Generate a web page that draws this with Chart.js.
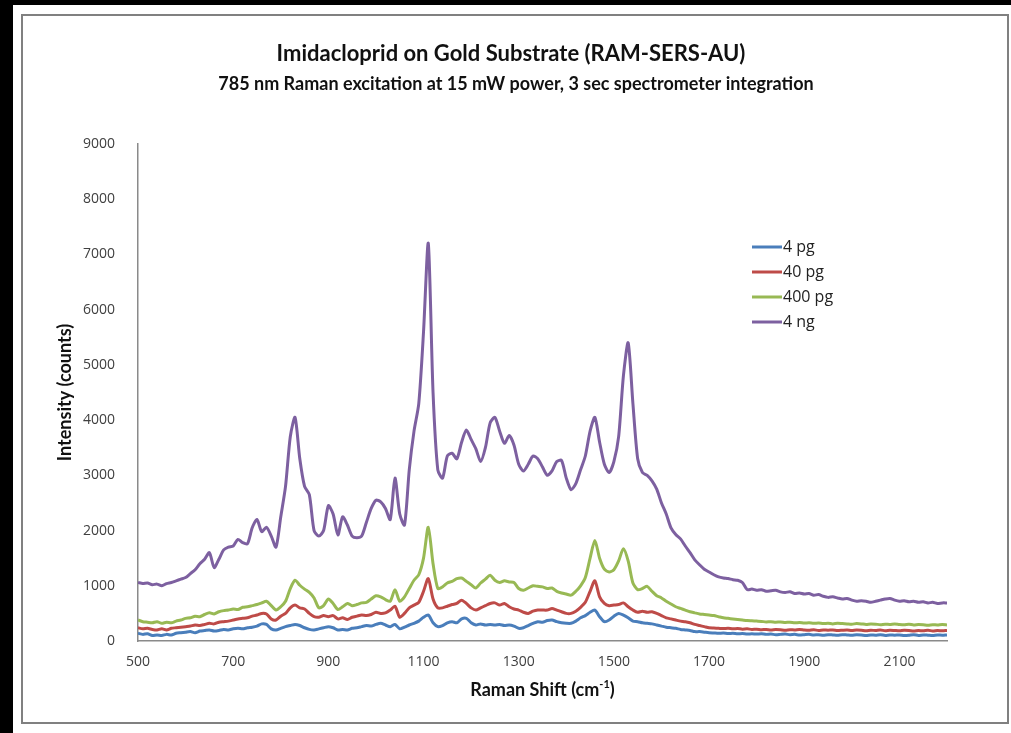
<!DOCTYPE html>
<html>
<head>
<meta charset="utf-8">
<title>Imidacloprid on Gold Substrate (RAM-SERS-AU)</title>
<script src="https://cdn.jsdelivr.net/npm/chart.js@4.4.1/dist/chart.umd.min.js"></script>
<style>
  html, body { margin: 0; padding: 0; background: #000; }
  #wrap { width: 1011px; height: 733px; }
</style>
</head>
<body>
<div id="wrap"><canvas id="ramanChart" width="1011" height="733"></canvas></div>
<script>
// Raman shift (cm-1), shared by all four spectra
const shifts = [
  500, 510, 520, 530, 540, 550, 560, 570, 580, 590,
  600, 610, 620, 630, 640, 650, 660, 670, 680, 690,
  700, 710, 720, 730, 740, 750, 760, 770, 780, 790,
  800, 810, 820, 830, 840, 850, 860, 870, 880, 890,
  900, 910, 920, 930, 940, 950, 960, 970, 980, 990,
  1000, 1010, 1020, 1030, 1040, 1050, 1060, 1070, 1080, 1090,
  1100, 1110, 1120, 1130, 1140, 1150, 1160, 1170, 1180, 1190,
  1200, 1210, 1220, 1230, 1240, 1250, 1260, 1270, 1280, 1290,
  1300, 1310, 1320, 1330, 1340, 1350, 1360, 1370, 1380, 1390,
  1400, 1410, 1420, 1430, 1440, 1450, 1460, 1470, 1480, 1490,
  1500, 1510, 1520, 1530, 1540, 1550, 1560, 1570, 1580, 1590,
  1600, 1610, 1620, 1630, 1640, 1650, 1660, 1670, 1680, 1690,
  1700, 1710, 1720, 1730, 1740, 1750, 1760, 1770, 1780, 1790,
  1800, 1810, 1820, 1830, 1840, 1850, 1860, 1870, 1880, 1890,
  1900, 1910, 1920, 1930, 1940, 1950, 1960, 1970, 1980, 1990,
  2000, 2010, 2020, 2030, 2040, 2050, 2060, 2070, 2080, 2090,
  2100, 2110, 2120, 2130, 2140, 2150, 2160, 2170, 2180, 2190,
  2200
];

const seriesLabels = ['4 pg', '40 pg', '400 pg', '4 ng'];

const pg4 = [
  140, 120, 130, 100, 110, 100, 120, 110, 140, 150,
  160, 170, 150, 180, 190, 200, 180, 190, 210, 200,
  220, 230, 220, 240, 250, 270, 310, 300, 220, 200,
  230, 260, 280, 300, 280, 240, 210, 200, 220, 240,
  260, 240, 200, 210, 200, 230, 240, 260, 280, 270,
  300, 320, 290, 260, 300, 220, 250, 290, 320, 360,
  430, 470, 330, 260, 280, 330, 350, 330, 400, 410,
  330, 290, 310, 290, 300, 290, 300, 280, 290, 270,
  230, 240, 280, 320, 350, 340, 370, 380, 350, 330,
  320, 320, 360, 420, 460, 520, 560, 440, 350, 380,
  450, 500, 470, 420, 360, 350, 330, 320, 310, 290,
  270, 250, 240, 230, 210, 200, 190, 170, 170, 160,
  150, 145, 140, 145, 135, 140, 130, 135, 125, 130,
  125, 130, 120, 125, 115, 120, 125, 115, 120, 110,
  115, 120, 110, 115, 105, 115, 110, 105, 115, 110,
  105, 115, 110, 100, 110, 105, 115, 100, 110, 105,
  110, 100, 105, 115, 100, 110, 105, 100, 110, 105,
  110
];

const pg40 = [
  240, 220, 230, 210, 200, 220, 200, 230, 240, 250,
  260, 270, 290, 280, 300, 320, 310, 340, 350, 360,
  380, 400, 410, 420, 450, 470, 500, 490, 400, 380,
  450, 500, 600, 650, 600, 580, 500, 440, 430, 460,
  440, 460, 400, 420, 390, 430, 450, 470, 460, 480,
  520, 500, 510, 560, 630, 430, 500, 600, 650, 700,
  900, 1130, 760, 600, 600, 630, 660, 680, 740, 680,
  600, 560, 600, 640, 680, 690, 650, 680, 620, 580,
  560, 520, 500, 540, 560, 560, 560, 590, 560, 530,
  500, 500, 540, 610, 700, 900, 1090, 800, 680, 640,
  650, 660, 690, 620, 560, 520, 540, 520, 530, 500,
  460, 420, 400, 380, 360, 350, 330, 300, 280, 260,
  240, 235, 230, 225, 230, 220, 225, 215, 220, 210,
  215, 205, 210, 200, 210, 205, 195, 205, 200, 210,
  200, 195, 205, 190, 200, 195, 200, 190, 195, 200,
  190, 200, 195, 185, 195, 190, 200, 185, 195, 190,
  185, 195, 190, 180, 190, 185, 195, 180, 190, 185,
  190
];

const pg400 = [
  380, 350, 340, 330, 350, 320, 340, 330, 360, 380,
  410, 420, 450, 440, 480, 510, 490, 530, 550, 560,
  580, 570, 610, 620, 640, 660, 690, 720, 640, 560,
  620, 720, 950, 1100, 1010, 940, 880, 780, 600, 640,
  760, 680, 570, 620, 680, 640, 660, 690, 700, 760,
  820, 800, 750, 720, 930, 720, 800, 950, 1100, 1200,
  1500, 2060, 1400, 950, 980, 1050, 1080, 1130, 1140, 1080,
  1020, 960, 1050, 1120, 1190, 1100, 1060, 1090, 1070, 1060,
  950, 920, 960, 1000, 990, 980, 950, 960, 900, 870,
  850, 830, 900, 1000, 1150, 1500, 1820, 1500, 1300, 1250,
  1290, 1450, 1670, 1450, 1050, 930, 950, 990, 900, 820,
  780, 720, 670, 620, 590, 560, 530, 510, 490, 480,
  470, 460, 440, 420, 410, 400, 390, 380, 370, 365,
  360, 355, 345, 350, 340, 345, 335, 340, 330, 335,
  325, 330, 320, 325, 315, 320, 310, 320, 315, 310,
  305, 315, 310, 300, 310, 305, 295, 305, 300, 310,
  300, 295, 305, 290, 300, 295, 285, 295, 290, 300,
  290
];

const ng4 = [
  1060, 1040, 1050, 1020, 1030, 1000, 1040, 1060, 1090, 1120,
  1150, 1220, 1290, 1400, 1480, 1600, 1330, 1480, 1650, 1700,
  1720, 1840, 1780, 1760, 2050, 2200, 1980, 2060, 1900, 1700,
  2250, 2800, 3700, 4050, 3300, 2800, 2650, 2000, 1900, 2000,
  2450, 2300, 1920, 2250, 2100, 1900, 1870, 1900, 2150, 2400,
  2550, 2520, 2400, 2200, 2950, 2300, 2100, 3100, 3800, 4300,
  5600, 7200, 4500, 3100, 2950, 3350, 3400, 3300, 3600, 3820,
  3650, 3480, 3250, 3500, 3950, 4050, 3800, 3580, 3720, 3550,
  3200, 3080, 3200, 3350, 3300, 3150, 3000, 3080, 3250, 3270,
  2950, 2740, 2850, 3100, 3350, 3800, 4050, 3600, 3200, 3050,
  3250, 3700, 4800, 5400, 4300, 3300, 3050, 3000, 2900, 2750,
  2500, 2300, 2050, 1930, 1850, 1720, 1600, 1470, 1380, 1300,
  1250, 1200, 1160, 1140, 1130, 1110, 1100, 1060, 930, 940,
  920, 930, 900, 910, 920, 890, 880, 890, 860, 870,
  850, 860, 830, 840, 810, 790, 800, 780, 760, 770,
  740, 720, 730, 720, 700, 720, 740, 760, 770, 740,
  720, 730, 710, 720, 700, 710, 690, 700, 680, 690,
  690
];

const xTickValues = [500, 700, 900, 1100, 1300, 1500, 1700, 1900, 2100];
const yTickValues = [0, 1000, 2000, 3000, 4000, 5000, 6000, 7000, 8000, 9000];

const seriesColors = ['#4a7ebb', '#be4b48', '#98b954', '#7d60a0'];
const seriesValues = [pg4, pg40, pg400, ng4];

const toPoints = (values) => shifts.map((x, i) => ({ x, y: values[i] }));

// page frame: black surround, white sheet, grey border
const framePlugin = {
  id: 'frame',
  beforeDraw(chart) {
    const { ctx, width, height } = chart;
    ctx.save();
    ctx.fillStyle = '#000';
    ctx.fillRect(0, 0, width, height);
    ctx.fillStyle = '#fff';
    ctx.fillRect(13, 5, width - 13, height - 5);
    ctx.strokeStyle = '#808080';
    ctx.lineWidth = 2;
    ctx.strokeRect(22, 15, 986, 708);
    ctx.restore();
  },
};

// titles, axis titles and the in-plot legend
const textPlugin = {
  id: 'texts',
  afterDraw(chart) {
    const { ctx, chartArea } = chart;
    const midX = (chartArea.left + chartArea.right) / 2;
    ctx.save();
    ctx.fillStyle = '#111';
    ctx.textAlign = 'center';
    ctx.textBaseline = 'middle';

    ctx.font = 'bold 22px Lato';
    ctx.fillText('Imidacloprid on Gold Substrate (RAM-SERS-AU)', 511, 54);
    ctx.font = 'bold 18px Lato';
    ctx.fillText('785 nm Raman excitation at 15 mW power, 3 sec spectrometer integration', 516, 84);

    // y axis title
    ctx.save();
    ctx.translate(65, (chartArea.top + chartArea.bottom) / 2);
    ctx.rotate(-Math.PI / 2);
    ctx.font = 'bold 18px Lato';
    ctx.fillText('Intensity (counts)', 0, 0);
    ctx.restore();

    // x axis title with superscript
    const main = 'Raman Shift (cm';
    const sup = '-1';
    const end = ')';
    ctx.font = 'bold 18px Lato';
    const w1 = ctx.measureText(main).width;
    const w3 = ctx.measureText(end).width;
    ctx.font = 'bold 11px Lato';
    const w2 = ctx.measureText(sup).width;
    let x = midX - (w1 + w2 + w3) / 2;
    const y = 690;
    ctx.textAlign = 'left';
    ctx.font = 'bold 18px Lato';
    ctx.fillText(main, x, y);
    x += w1;
    ctx.font = 'bold 11px Lato';
    ctx.fillText(sup, x, y - 6);
    x += w2;
    ctx.font = 'bold 18px Lato';
    ctx.fillText(end, x, y);

    // legend
    ctx.font = '16px "Open Sans"';
    ctx.fillStyle = '#222';
    chart.data.datasets.forEach((ds, i) => {
      const ly = 247 + i * 25;
      ctx.strokeStyle = ds.borderColor;
      ctx.lineWidth = 3;
      ctx.beginPath();
      ctx.moveTo(752, ly);
      ctx.lineTo(782, ly);
      ctx.stroke();
      ctx.fillText(ds.label, 783, ly);
    });
    ctx.restore();
  },
};

new Chart(document.getElementById('ramanChart'), {
  type: 'line',
  data: {
    datasets: seriesLabels.map((label, i) => ({
      label,
      data: toPoints(seriesValues[i]),
      borderColor: seriesColors[i],
      backgroundColor: seriesColors[i],
      borderWidth: 3,
      pointRadius: 0,
      tension: 0.25,
      fill: false,
      order: seriesLabels.length - i,
    })),
  },
  options: {
    responsive: false,
    animation: false,
    layout: {
      padding: { left: 0, top: 144, right: 64, bottom: 0 },
    },
    plugins: {
      legend: { display: false },
      title: { display: false },
      tooltip: { enabled: false },
    },
    scales: {
      x: {
        type: 'linear',
        min: 500,
        max: 2200,
        afterBuildTicks: (scale) => {
          scale.ticks = xTickValues.map((value) => ({ value }));
        },
        afterFit: (scale) => {
          scale.height = 92;
        },
        grid: { display: false, drawTicks: false },
        border: { display: true, color: '#8a8a8a', width: 1.5 },
        ticks: {
          padding: 13,
          color: '#404040',
          font: { family: 'Open Sans', size: 14 },
          maxRotation: 0,
          callback: (value) => String(value),
        },
      },
      y: {
        min: 0,
        max: 9000,
        afterBuildTicks: (scale) => {
          scale.ticks = yTickValues.map((value) => ({ value }));
        },
        afterFit: (scale) => {
          scale.width = 138;
        },
        grid: { display: false, drawTicks: false },
        border: { display: true, color: '#8a8a8a', width: 1.5 },
        ticks: {
          padding: 23,
          color: '#404040',
          font: { family: 'Open Sans', size: 14 },
          callback: (value) => String(value),
        },
      },
    },
  },
  plugins: [framePlugin, textPlugin],
});
</script>
</body>
</html>
